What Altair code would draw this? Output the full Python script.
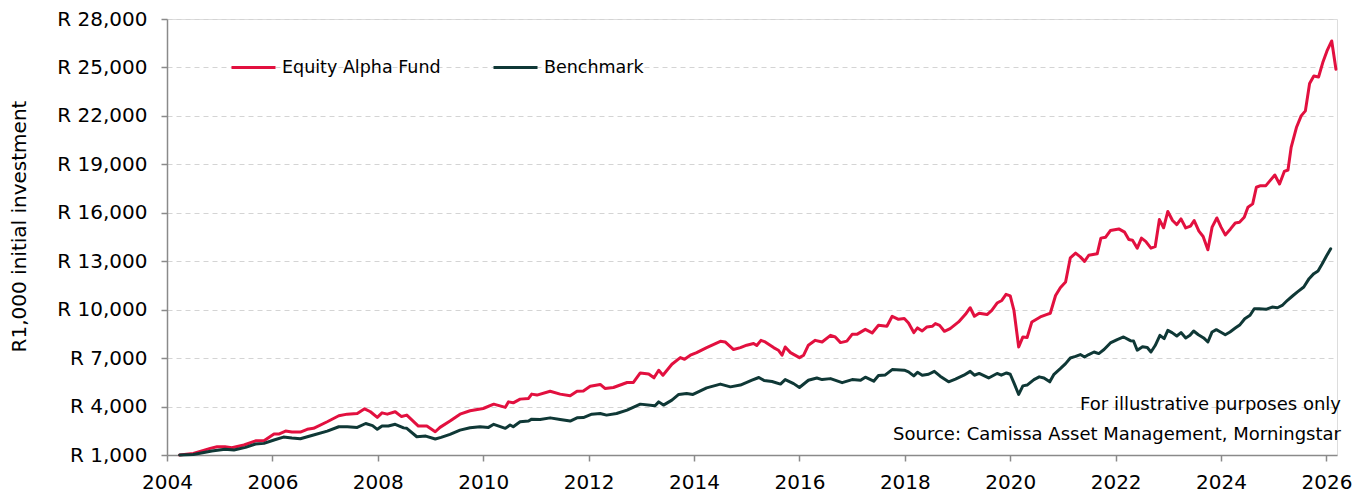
import altair as alt
import pandas as pd

# ---- data (decimal year, value in Rand) ----
fund_years = [2004.24, 2004.50, 2004.82, 2004.95, 2005.10, 2005.23, 2005.46, 2005.68, 2005.84, 2006.03,
              2006.12, 2006.25, 2006.37, 2006.53, 2006.66, 2006.78, 2007.04, 2007.26, 2007.42, 2007.61,
              2007.75, 2007.86, 2007.99, 2008.08, 2008.18, 2008.33, 2008.45, 2008.55, 2008.77, 2008.93,
              2009.09, 2009.18, 2009.37, 2009.56, 2009.75, 2010.00, 2010.20, 2010.42, 2010.48, 2010.57,
              2010.70, 2010.86, 2010.92, 2011.02, 2011.27, 2011.46, 2011.65, 2011.78, 2011.90, 2012.03,
              2012.22, 2012.31, 2012.47, 2012.73, 2012.85, 2012.98, 2013.14, 2013.24, 2013.33, 2013.41,
              2013.58, 2013.74, 2013.82, 2013.93, 2014.05, 2014.24, 2014.50, 2014.59, 2014.75, 2014.88,
              2015.00, 2015.13, 2015.19, 2015.27, 2015.35, 2015.51, 2015.60, 2015.67, 2015.73, 2015.83,
              2016.00, 2016.08, 2016.17, 2016.30, 2016.43, 2016.59, 2016.68, 2016.78, 2016.90, 2017.00,
              2017.09, 2017.25, 2017.38, 2017.50, 2017.66, 2017.76, 2017.88, 2017.99, 2018.07, 2018.17,
              2018.24, 2018.33, 2018.42, 2018.52, 2018.58, 2018.66, 2018.75, 2018.86, 2019.02, 2019.15,
              2019.24, 2019.32, 2019.41, 2019.56, 2019.65, 2019.75, 2019.84, 2019.92, 2020.00, 2020.07,
              2020.16, 2020.24, 2020.32, 2020.41, 2020.57, 2020.70, 2020.76, 2020.86, 2020.95, 2021.05,
              2021.14, 2021.24, 2021.33, 2021.41, 2021.49, 2021.65, 2021.72, 2021.81, 2021.90, 2022.06,
              2022.17, 2022.25, 2022.32, 2022.41, 2022.49, 2022.57, 2022.67, 2022.75, 2022.83, 2022.91,
              2022.99, 2023.08, 2023.16, 2023.24, 2023.33, 2023.42, 2023.49, 2023.58, 2023.66, 2023.75,
              2023.83, 2023.92, 2024.00, 2024.08, 2024.18, 2024.27, 2024.35, 2024.44, 2024.51, 2024.60,
              2024.67, 2024.75, 2024.85, 2024.93, 2025.02, 2025.11, 2025.20, 2025.27, 2025.33, 2025.43,
              2025.52, 2025.60, 2025.68, 2025.76, 2025.85, 2025.93, 2026.01, 2026.10, 2026.18]
fund_values = [1000, 1100, 1410, 1510, 1510, 1450, 1620, 1880, 1880, 2300,
               2300, 2480, 2420, 2420, 2590, 2650, 3060, 3430, 3530, 3570,
               3860, 3680, 3330, 3610, 3530, 3680, 3380, 3470, 2790, 2790,
               2440, 2710, 3100, 3530, 3740, 3880, 4150, 3950, 4290, 4230,
               4460, 4500, 4770, 4710, 4950, 4770, 4670, 4950, 4970, 5260,
               5370, 5120, 5180, 5490, 5490, 6080, 6020, 5780, 6250, 5940,
               6620, 7030, 6930, 7180, 7340, 7650, 8040, 8000, 7530, 7650,
               7800, 7900, 7780, 8100, 8000, 7650, 7490, 7180, 7690, 7340,
               7030, 7180, 7800, 8100, 8000, 8410, 8310, 7960, 8050, 8470,
               8470, 8780, 8560, 9030, 8970, 9590, 9400, 9450, 9170, 8580,
               8870, 8680, 8930, 8970, 9140, 9030, 8660, 8830, 9240, 9710,
               10120, 9590, 9780, 9700, 9960, 10410, 10570, 10950, 10850, 9960,
               7690, 8310, 8270, 9240, 9550, 9710, 9780, 10880, 11360, 11710,
               13210, 13500, 13270, 12990, 13370, 13460, 14430, 14490, 14900, 15000,
               14800, 14340, 14300, 13810, 14430, 14230, 13810, 13900, 15580, 15070,
               16080, 15520, 15270, 15620, 15060, 15170, 15520, 14860, 14530, 13710,
               15110, 15680, 15110, 14630, 15000, 15370, 15410, 15720, 16340, 16550,
               17580, 17680, 17680, 17990, 18340, 17780, 18560, 18650, 20050, 21280,
               22000, 22310, 24000, 24470, 24410, 25300, 26020, 26640, 24890]

bench_years = [2004.24, 2004.50, 2004.85, 2005.10, 2005.27, 2005.49, 2005.68, 2005.84, 2006.03, 2006.21,
               2006.37, 2006.53, 2006.78, 2007.04, 2007.26, 2007.42, 2007.61, 2007.77, 2007.90, 2007.99,
               2008.08, 2008.20, 2008.33, 2008.49, 2008.55, 2008.74, 2008.91, 2009.09, 2009.20, 2009.37,
               2009.56, 2009.75, 2009.94, 2010.10, 2010.20, 2010.42, 2010.51, 2010.57, 2010.70, 2010.86,
               2010.92, 2011.08, 2011.27, 2011.46, 2011.65, 2011.78, 2011.90, 2012.06, 2012.22, 2012.34,
               2012.53, 2012.73, 2012.98, 2013.26, 2013.33, 2013.42, 2013.58, 2013.71, 2013.86, 2013.98,
               2014.24, 2014.50, 2014.69, 2014.88, 2015.10, 2015.23, 2015.33, 2015.48, 2015.64, 2015.73,
               2015.89, 2016.00, 2016.17, 2016.33, 2016.43, 2016.59, 2016.81, 2017.00, 2017.16, 2017.25,
               2017.41, 2017.50, 2017.63, 2017.76, 2017.99, 2018.07, 2018.17, 2018.24, 2018.33, 2018.45,
               2018.56, 2018.67, 2018.83, 2018.96, 2019.12, 2019.24, 2019.32, 2019.41, 2019.59, 2019.75,
               2019.83, 2019.93, 2020.00, 2020.07, 2020.16, 2020.24, 2020.32, 2020.45, 2020.55, 2020.64,
               2020.75, 2020.83, 2020.95, 2021.05, 2021.14, 2021.24, 2021.33, 2021.41, 2021.49, 2021.59,
               2021.68, 2021.78, 2021.90, 2022.03, 2022.15, 2022.28, 2022.34, 2022.41, 2022.51, 2022.60,
               2022.67, 2022.75, 2022.84, 2022.92, 2022.99, 2023.07, 2023.16, 2023.24, 2023.33, 2023.41,
               2023.48, 2023.57, 2023.67, 2023.75, 2023.83, 2023.91, 2023.99, 2024.08, 2024.17, 2024.27,
               2024.36, 2024.45, 2024.55, 2024.63, 2024.72, 2024.85, 2024.97, 2025.07, 2025.16, 2025.26,
               2025.35, 2025.45, 2025.57, 2025.67, 2025.76, 2025.84, 2025.92, 2026.00, 2026.08]
bench_values = [1000, 1030, 1250, 1350, 1310, 1470, 1680, 1720, 1930, 2110,
                2050, 2010, 2240, 2480, 2750, 2750, 2710, 2950, 2820, 2590,
                2800, 2800, 2900, 2680, 2650, 2130, 2170, 1990, 2090, 2280,
                2540, 2690, 2750, 2710, 2900, 2650, 2860, 2750, 3060, 3100,
                3220, 3200, 3300, 3200, 3100, 3300, 3320, 3530, 3570, 3470,
                3570, 3780, 4150, 4050, 4290, 4090, 4400, 4750, 4810, 4750,
                5160, 5390, 5220, 5330, 5630, 5800, 5610, 5550, 5390, 5670,
                5420, 5180, 5630, 5770, 5670, 5730, 5480, 5670, 5630, 5820,
                5570, 5920, 5960, 6290, 6250, 6150, 5900, 6120, 5940, 6000,
                6180, 5880, 5530, 5700, 5940, 6180, 5940, 6050, 5770, 6050,
                5940, 6080, 6000, 5470, 4750, 5280, 5330, 5670, 5840, 5770,
                5530, 6000, 6350, 6660, 7010, 7110, 7220, 7070, 7220, 7380,
                7280, 7530, 7940, 8150, 8310, 8080, 8060, 7490, 7700, 7660,
                7380, 7780, 8410, 8210, 8720, 8580, 8370, 8580, 8250, 8410,
                8680, 8450, 8250, 8000, 8620, 8760, 8620, 8450, 8620, 8860,
                9070, 9440, 9650, 10060, 10060, 10020, 10160, 10120, 10260, 10580,
                10830, 11100, 11400, 11920, 12230, 12400, 12840, 13320, 13770]

series_names = ["Equity Alpha Fund", "Benchmark"]
series_colors = ["#E2103F", "#0F3836"]
x_ticks = [2004, 2006, 2008, 2010, 2012, 2014, 2016, 2018, 2020, 2022, 2024, 2026]
y_ticks = [1000, 4000, 7000, 10000, 13000, 16000, 19000, 22000, 25000, 28000]
y_title = "R1,000 initial investment"
note_1 = "For illustrative purposes only"
note_2 = "Source: Camissa Asset Management, Morningstar"

df = pd.concat([
    pd.DataFrame({"year": fund_years, "value": fund_values, "series": series_names[0], "ord": 0}),
    pd.DataFrame({"year": bench_years, "value": bench_values, "series": series_names[1], "ord": 1}),
], ignore_index=True)

FONT = "DejaVu Sans"
W, H = 1170, 436

lines = alt.Chart(df).mark_line(strokeWidth=3, strokeJoin="round", strokeCap="round").encode(
    x=alt.X("year:Q", scale=alt.Scale(domain=[2004, 2026.2], nice=False, zero=False),
            axis=alt.Axis(values=x_ticks, format="d", title=None, grid=False,
                          labelFlush=False,
                          domainColor="#8a8a8a", domainWidth=1.5, tickColor="#8a8a8a",
                          tickWidth=1.5, tickSize=6, labelPadding=11, labelFont=FONT,
                          labelFontSize=20, labelColor="#000000")),
    y=alt.Y("value:Q", scale=alt.Scale(domain=[1000, 28000], nice=False, zero=False),
            axis=alt.Axis(values=y_ticks, title=y_title,
                          labelExpr="'R ' + format(datum.value, ',')",
                          labelFlush=False,
                          grid=True, gridDash=[5, 4], gridColor="#d4d4d4", gridWidth=1,
                          domainColor="#8a8a8a", domainWidth=1.5, tickColor="#8a8a8a",
                          tickWidth=1.5, tickSize=6, labelPadding=14, labelFont=FONT,
                          labelFontSize=20, labelColor="#000000",
                          titleFont=FONT, titleFontSize=20, titleFontWeight="normal",
                          titleColor="#000000", titleX=-148, titleY=207,
                          titleBaseline="middle", titleAlign="center")),
    color=alt.Color("series:N", scale=alt.Scale(domain=series_names, range=series_colors),
                    legend=alt.Legend(orient="none", legendX=63, legendY=25,
                                      direction="horizontal", title=None,
                                      symbolType="stroke", symbolSize=1936,
                                      symbolStrokeWidth=3, labelFont=FONT,
                                      labelFontSize=17.5, labelColor="#000000",
                                      columnPadding=46, labelOffset=5)),
    order=alt.Order("ord:Q"),
    detail="series:N",
)

notes_df = pd.DataFrame({"t": [note_1, note_2], "py": [386, 416]})
notes = alt.Chart(notes_df).mark_text(align="right", baseline="middle", font=FONT,
                                      fontSize=18, color="#000000").encode(
    x=alt.value(1174), y=alt.Y("py:Q", scale=None), text="t:N")

chart = alt.layer(lines, notes).properties(
    width=W, height=H,
    autosize=alt.AutoSizeParams(type="none"),
    padding={"left": 159, "top": 11, "right": 18, "bottom": 38},
).configure_view(stroke=None).configure(background="#ffffff")

chart.save("out.html", embed_options={"renderer": "svg", "actions": False})
